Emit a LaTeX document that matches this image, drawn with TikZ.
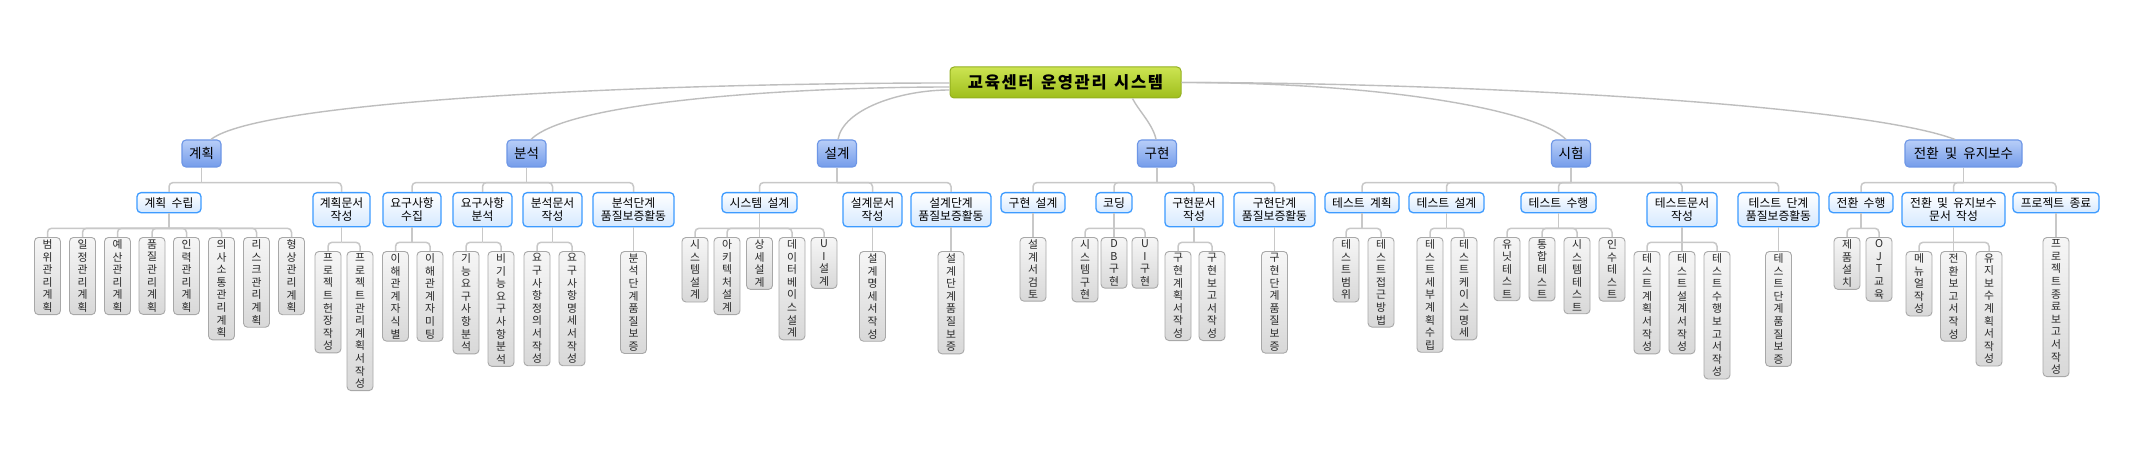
\documentclass[tikz,border=0pt]{standalone}
\usepackage{fontspec}
\setmainfont{Noto Sans CJK KR}
\makeatletter
\newcommand\vt[1]{\vbox{\baselineskip=12.6pt\lineskip=0pt\lineskiplimit=-20pt\@tfor\vtc:=#1\do{\hbox to 14pt{\hss\vtc\hss}}}}
\makeatother
\newcommand\ks{\hspace{0.45em}}
\newcommand\kids[2]{%
  \draw[conn] (#1.south) -- ([yshift=-15pt]#1.south);
  \foreach \k in {#2} {\draw[conn,rounded corners=4pt] ([yshift=-15pt]#1.south) -| (\k.north);}}
\begin{document}
\begin{tikzpicture}[x=1pt,y=-1pt,
  rootbox/.style={draw={rgb,255:red,148;green,176;blue,32}, line width=1pt, rounded corners=4pt,
    top color={rgb,255:red,204;green,228;blue,82}, bottom color={rgb,255:red,159;green,190;blue,28},
    minimum width=231pt, minimum height=31pt, inner sep=0pt,
    font=\fontsize{16.5}{18}\selectfont\bfseries\addfontfeatures{LetterSpace=10}},
  lvone/.style={draw={rgb,255:red,109;green,150;blue,230}, line width=1.1pt, rounded corners=4pt,
    top color={rgb,255:red,184;green,206;blue,248}, bottom color={rgb,255:red,116;green,156;blue,234},
    minimum width=39pt, minimum height=27pt, inner xsep=6pt, inner ysep=0pt, font=\fontsize{13.5}{15}\selectfont},
  lvtwo/.style={draw={rgb,255:red,61;green,155;blue,255}, line width=1.3pt, rounded corners=4pt,
    top color=white, bottom color={rgb,255:red,214;green,233;blue,255},
    anchor=north, minimum height=20pt, inner sep=0pt, align=center, font=\fontsize{11.8}{13.5}\selectfont},
  lvtwob/.style={lvtwo, minimum height=34pt},
  lvthree/.style={draw={rgb,255:red,168;green,168;blue,168}, line width=0.9pt, rounded corners=4pt,
    top color={rgb,255:red,246;green,246;blue,246}, bottom color={rgb,255:red,216;green,216;blue,216},
    anchor=north, minimum width=26pt, inner xsep=0pt, inner ysep=2.2pt, text={rgb,255:red,40;green,40;blue,40},
    font=\fontsize{10.8}{12.6}\selectfont},
  conn/.style={draw={rgb,255:red,200;green,200;blue,200}, line width=1.5pt},
  curv/.style={draw={rgb,255:red,190;green,190;blue,190}, line width=1.4pt}
]
\fill[white] (0,0) rectangle (2132,457);
\useasboundingbox (0,0) rectangle (2132,457);

% root
\node[rootbox] (r) at (1065.5,82.5) {교육센터\ks 운영관리\ks 시스템};

% level 1
\node[lvone] (g1) at (201.5,153.5) {계획};
\node[lvone] (g2) at (526.5,153.5) {분석};
\node[lvone] (g3) at (837,153.5) {설계};
\node[lvone] (g4) at (1157,153.5) {구현};
\node[lvone] (g5) at (1571,153.5) {시험};
\node[lvone,minimum width=117pt] (g6) at (1963.5,153.5) {전환\ks 및\ks 유지보수};

% curves
\draw[curv] ([yshift=-0.5pt]r.west) .. controls +(-300,0) and +(49,-39) .. ([xshift=9.5pt]g1.north);
\draw[curv] ([yshift=-4.5pt]r.west) .. controls +(-150,0) and +(39,-39) .. ([xshift=4.5pt]g2.north);
\draw[curv] ([yshift=-7.5pt]r.west) .. controls +(-50,0) and +(5,-30) .. ([xshift=1pt]g3.north);
\draw[curv] ([xshift=-49pt]r.south east) .. controls +(6,12) and +(-3,-15) .. ([xshift=-1pt]g4.north);
\draw[curv] (r.east) .. controls +(200,0) and +(-30,-30) .. ([xshift=-5pt]g5.north);
\draw[curv] (r.east) .. controls +(270,0) and +(-95,-36) .. ([xshift=-8.5pt]g6.north);

% level 2
\node[lvtwo,minimum width=64pt] (a1) at (169,192) {계획\ks 수립};
\node[lvtwob,minimum width=57pt] (a2) at (341.5,192) {계획문서\\작성};
\node[lvtwob,minimum width=58pt] (b1) at (412,192) {요구사항\\수집};
\node[lvtwob,minimum width=59pt] (b2) at (482.5,192) {요구사항\\분석};
\node[lvtwob,minimum width=59pt] (b3) at (552.5,192) {분석문서\\작성};
\node[lvtwob,minimum width=81pt] (b4) at (633.5,192) {분석단계\\품질보증활동};
\node[lvtwo,minimum width=75pt] (c1) at (759.5,192) {시스템\ks 설계};
\node[lvtwob,minimum width=59pt] (c2) at (872.5,192) {설계문서\\작성};
\node[lvtwob,minimum width=80pt] (c3) at (951,192) {설계단계\\품질보증활동};
\node[lvtwo,minimum width=64pt] (d1) at (1033,192) {구현\ks 설계};
\node[lvtwo,minimum width=36pt] (d2) at (1114,192) {코딩};
\node[lvtwob,minimum width=58pt] (d3) at (1194,192) {구현문서\\작성};
\node[lvtwob,minimum width=81pt] (d4) at (1274.5,192) {구현단계\\품질보증활동};
\node[lvtwo,minimum width=74pt] (e1) at (1362,192) {테스트\ks 계획};
\node[lvtwo,minimum width=75pt] (e2) at (1446.5,192) {테스트\ks 설계};
\node[lvtwo,minimum width=75pt] (e3) at (1558.5,192) {테스트\ks 수행};
\node[lvtwob,minimum width=70pt] (e4) at (1682,192) {테스트문서\\작성};
\node[lvtwob,minimum width=81pt] (e5) at (1778.5,192) {테스트\ks 단계\\품질보증활동};
\node[lvtwo,minimum width=64pt] (f1) at (1861,192) {전환\ks 수행};
\node[lvtwob,minimum width=103pt] (f2) at (1953.5,192) {전환\ks 및\ks 유지보수\\문서\ks 작성};
\node[lvtwo,minimum width=86pt] (f3) at (2056,192) {프로젝트\ks 종료};

% level 3
\node[lvthree] (a11) at (47.5,237) {\vt{범위관리계획}};
\node[lvthree] (a12) at (82.5,237) {\vt{일정관리계획}};
\node[lvthree] (a13) at (117.5,237) {\vt{예산관리계획}};
\node[lvthree] (a14) at (152,237) {\vt{품질관리계획}};
\node[lvthree] (a15) at (186.5,237) {\vt{인력관리계획}};
\node[lvthree] (a16) at (221.5,237) {\vt{의사소통관리계획}};
\node[lvthree] (a17) at (256.5,237) {\vt{리스크관리계획}};
\node[lvthree] (a18) at (291.5,237) {\vt{형상관리계획}};
\node[lvthree] (a21) at (328,251) {\vt{프로젝트헌장작성}};
\node[lvthree] (a22) at (360,251) {\vt{프로젝트관리계획서작성}};
\node[lvthree] (b11) at (395.5,251) {\vt{이해관계자식별}};
\node[lvthree] (b12) at (430,251) {\vt{이해관계자미팅}};
\node[lvthree] (b21) at (466,251) {\vt{기능요구사항분석}};
\node[lvthree] (b22) at (501,251) {\vt{비기능요구사항분석}};
\node[lvthree] (b31) at (537,251) {\vt{요구사항정의서작성}};
\node[lvthree] (b32) at (572,251) {\vt{요구사항명세서작성}};
\node[lvthree] (b41) at (633.5,251) {\vt{분석단계품질보증}};
\node[lvthree] (c11) at (695,237) {\vt{시스템설계}};
\node[lvthree] (c12) at (727,237) {\vt{아키텍처설계}};
\node[lvthree] (c13) at (759.5,237) {\vt{상세설계}};
\node[lvthree] (c14) at (792,237) {\vt{데이터베이스설계}};
\node[lvthree] (c15) at (824,237) {\vt{UI설계}};
\node[lvthree] (c21) at (872.5,251) {\vt{설계명세서작성}};
\node[lvthree] (c31) at (951,251) {\vt{설계단계품질보증}};
\node[lvthree] (d11) at (1033,237) {\vt{설계서검토}};
\node[lvthree] (d21) at (1085,237) {\vt{시스템구현}};
\node[lvthree] (d22) at (1114,237) {\vt{DB구현}};
\node[lvthree] (d23) at (1145,237) {\vt{UI구현}};
\node[lvthree] (d31) at (1178,251) {\vt{구현계획서작성}};
\node[lvthree] (d32) at (1212,251) {\vt{구현보고서작성}};
\node[lvthree] (d41) at (1274.5,251) {\vt{구현단계품질보증}};
\node[lvthree] (e11) at (1346,237) {\vt{테스트범위}};
\node[lvthree] (e12) at (1381,237) {\vt{테스트접근방법}};
\node[lvthree] (e21) at (1430,237) {\vt{테스트세부계획수립}};
\node[lvthree] (e22) at (1464,237) {\vt{테스트케이스명세}};
\node[lvthree] (e31) at (1507,237) {\vt{유닛테스트}};
\node[lvthree] (e32) at (1542,237) {\vt{통합테스트}};
\node[lvthree] (e33) at (1577,237) {\vt{시스템테스트}};
\node[lvthree] (e34) at (1612,237) {\vt{인수테스트}};
\node[lvthree] (e41) at (1647,251) {\vt{테스트계획서작성}};
\node[lvthree] (e42) at (1682,251) {\vt{테스트설계서작성}};
\node[lvthree] (e43) at (1717,251) {\vt{테스트수행보고서작성}};
\node[lvthree] (e51) at (1778.5,251) {\vt{테스트단계품질보증}};
\node[lvthree] (f11) at (1847,237) {\vt{제품설치}};
\node[lvthree] (f12) at (1879,237) {\vt{OJT교육}};
\node[lvthree] (f21) at (1919,251) {\vt{메뉴얼작성}};
\node[lvthree] (f22) at (1953.5,251) {\vt{전환보고서작성}};
\node[lvthree] (f23) at (1989,251) {\vt{유지보수계획서작성}};
\node[lvthree] (f31) at (2056,237) {\vt{프로젝트종료보고서작성}};

% connectors level 1 -> 2
\kids{g1}{a1,a2}
\kids{g2}{b1,b2,b3,b4}
\kids{g3}{c1,c2,c3}
\kids{g4}{d1,d2,d3,d4}
\kids{g5}{e1,e2,e3,e4,e5}
\kids{g6}{f1,f2,f3}
% connectors level 2 -> 3
\kids{a1}{a11,a12,a13,a14,a15,a16,a17,a18}
\kids{a2}{a21,a22}
\kids{b1}{b11,b12}
\kids{b2}{b21,b22}
\kids{b3}{b31,b32}
\kids{b4}{b41}
\kids{c1}{c11,c12,c13,c14,c15}
\kids{c2}{c21}
\kids{c3}{c31}
\kids{d1}{d11}
\kids{d2}{d21,d22,d23}
\kids{d3}{d31,d32}
\kids{d4}{d41}
\kids{e1}{e11,e12}
\kids{e2}{e21,e22}
\kids{e3}{e31,e32,e33,e34}
\kids{e4}{e41,e42,e43}
\kids{e5}{e51}
\kids{f1}{f11,f12}
\kids{f2}{f21,f22,f23}
\kids{f3}{f31}
\end{tikzpicture}
\end{document}
